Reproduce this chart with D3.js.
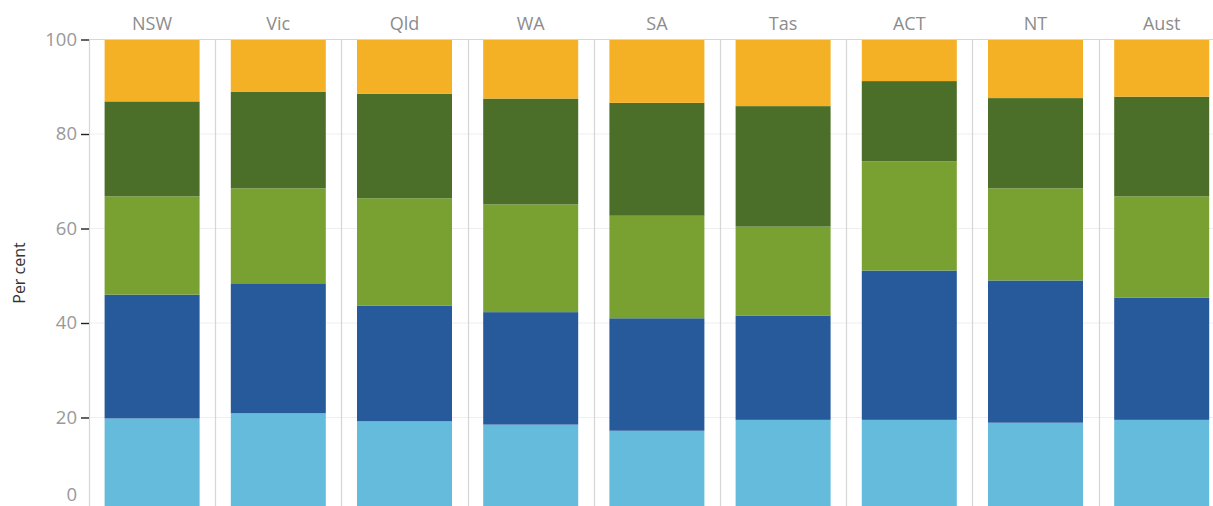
<!DOCTYPE html>
<html>
<head>
<meta charset="utf-8">
<script src="https://cdn.jsdelivr.net/npm/d3@7"></script>
<style>
  body { margin: 0; background: #fff; }
  svg { display: block; font-family: "Open Sans", "Noto Sans", sans-serif; }
</style>
</head>
<body>
<svg id="chart" width="1213" height="506"></svg>
<script>
// states / territories, one panel each
const regions = ["NSW", "Vic", "Qld", "WA", "SA", "Tas", "ACT", "NT", "Aust"];
// stack order bottom -> top
const seriesNames = ["s1", "s2", "s3", "s4", "s5"];
const seriesColors = ["#64bbdb", "#265a9a", "#78a132", "#4b6f28", "#f4b125"];
const s1 = [19.8, 20.9, 19.2, 18.5, 17.2, 19.5, 19.5, 18.9, 19.5];
const s2 = [26.2, 27.5, 24.5, 23.8, 23.8, 22.1, 31.6, 30.1, 25.9];
const s3 = [20.8, 20.1, 22.7, 22.8, 21.7, 18.8, 23.1, 19.5, 21.4];
const s4 = [20.1, 20.4, 22.1, 22.4, 23.9, 25.5, 17.0, 19.1, 21.1];
const s5 = [13.1, 11.1, 11.5, 12.5, 13.4, 14.1, 8.8, 12.4, 12.1];
const yTicks = [0, 20, 40, 60, 80, 100];

const svg = d3.select("#chart");
const plotLeft = 89, plotTop = 39.5, panelW = 126.2, barW = 95;

// table for d3.stack
const rows = regions.map((r, i) => ({region: r, s1: s1[i], s2: s2[i], s3: s3[i], s4: s4[i], s5: s5[i]}));
const stacked = d3.stack().keys(seriesNames)(rows);

const y = d3.scaleLinear().domain([0, 100]).range([512, plotTop]);
const x = d3.scaleBand().domain(regions)
  .range([plotLeft, plotLeft + panelW * regions.length])
  .paddingInner(0).paddingOuter(0);

// gridlines
svg.append("g").selectAll("line")
  .data(yTicks.filter(d => d > 0 && d < 100))
  .join("line")
  .attr("x1", plotLeft).attr("x2", 1213)
  .attr("y1", d => y(d)).attr("y2", d => y(d))
  .attr("stroke", "#eeeeee").attr("stroke-width", 1);

// bars
const inset = (panelW - barW) / 2;
svg.append("g").selectAll("g")
  .data(stacked)
  .join("g")
  .attr("fill", (d, i) => seriesColors[i])
  .selectAll("rect")
  .data(d => d)
  .join("rect")
  .attr("x", d => x(d.data.region) + inset)
  .attr("width", barW)
  .attr("y", d => y(d[1]))
  .attr("height", d => y(d[0]) - y(d[1]));

// panel separators
svg.append("g").selectAll("line")
  .data(regions)
  .join("line")
  .attr("x1", d => Math.round(x(d)) + 0.5).attr("x2", d => Math.round(x(d)) + 0.5)
  .attr("y1", plotTop).attr("y2", 506)
  .attr("stroke", "#d6d6d6").attr("stroke-width", 1.2);

// header line
svg.append("line")
  .attr("x1", plotLeft).attr("x2", 1213)
  .attr("y1", plotTop).attr("y2", plotTop)
  .attr("stroke", "#d6d6d6").attr("stroke-width", 1.2);

// panel headers
svg.append("g").selectAll("text")
  .data(regions)
  .join("text")
  .attr("x", d => x(d) + panelW / 2)
  .attr("y", 24)
  .attr("dy", "0.35em")
  .attr("text-anchor", "middle")
  .attr("fill", "#8c8c8c")
  .attr("font-size", 18)
  .text(d => d);

// y axis
const yAxis = d3.axisLeft(y).tickValues(yTicks).tickSize(8).tickPadding(4);
const ax = svg.append("g").attr("transform", `translate(${plotLeft},0)`).call(yAxis);
ax.select(".domain").remove();
ax.selectAll(".tick line").attr("stroke", "#222").attr("stroke-width", 1.4);
ax.selectAll(".tick text")
  .attr("fill", "#999")
  .attr("font-size", 18.5)
  .attr("font-family", "Open Sans, sans-serif");
// keep the bottom label inside the view, as the original does
ax.selectAll(".tick").filter(d => d === 0).select("text").attr("y", -17);

svg.append("text")
  .attr("transform", "translate(19,273) rotate(-90)")
  .attr("dy", "0.35em")
  .attr("text-anchor", "middle")
  .attr("fill", "#333")
  .attr("font-size", 16)
  .text("Per cent");
</script>
</body>
</html>
